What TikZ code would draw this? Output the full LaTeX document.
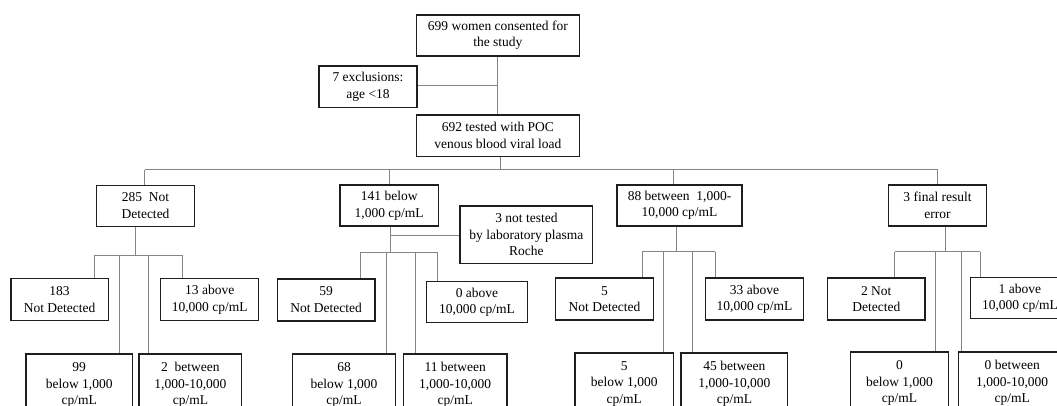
\documentclass[tikz,border=0pt]{standalone}
\usepackage{fontspec}
\setmainfont{Liberation Serif}
\definecolor{boxcol}{HTML}{1E1E1E}
\definecolor{conncol}{HTML}{858585}
\tikzset{
  box/.style={draw=boxcol, line width=1.4pt, fill=white, align=center, inner sep=0pt,
    font=\fontsize{13.5}{16.5}\selectfont, text=black},
  conn/.style={draw=conncol, line width=0.9pt},
}
\begin{document}
\begin{tikzpicture}[x=1pt,y=-1pt]
\useasboundingbox (0,0) rectangle (1057,405);
\clip (0,0) rectangle (1057,405);
\fill[white] (0,0) rectangle (1057,405);

% top part
\node[box, minimum width=163pt, minimum height=41pt] (top) at (497.9,35.4) {699 women consented for\\the study};
\node[box, minimum width=97.7pt, minimum height=41.3pt] (excl) at (368,86.6) {7 exclusions:\\age <18};
\node[box, minimum width=163pt, minimum height=41.3pt] (p692) at (497.9,135.6) {692 tested with POC\\venous blood viral load};

% level 2
\node[box, minimum width=97.6pt, minimum height=41pt] (A) at (145.5,205.7) {285\ \ Not\\Detected};
\node[box, minimum width=98.3pt, minimum height=41pt] (B) at (389.2,205.5) {141 below\\1,000 cp/mL};
\node[box, minimum width=125.1pt, minimum height=41pt] (C) at (679.5,205.3) {88 between\ \ 1,000-\\10,000 cp/mL};
\node[box, minimum width=98.4pt, minimum height=41pt] (D) at (937.5,205.3) {3 final result\\error};
\node[box, minimum width=132.7pt, minimum height=57.3pt] (notT) at (526.4,234.7) {3 not tested\\by laboratory plasma\\Roche};

% level 3
\node[box, minimum width=97.5pt, minimum height=42pt] (A1) at (59.6,299.6) {183\\Not Detected};
\node[box, minimum width=97.9pt, minimum height=42pt] (A2) at (209.7,299.6) {13 above\\10,000 cp/mL};
\node[box, minimum width=97.8pt, minimum height=42pt] (B1) at (326.1,299.8) {59\\Not Detected};
\node[box, minimum width=100.6pt, minimum height=41pt] (B2) at (477,302) {0 above\\10,000 cp/mL};
\node[box, minimum width=97.6pt, minimum height=42pt] (C1) at (604.5,299) {5\\Not Detected};
\node[box, minimum width=97.5pt, minimum height=42pt] (C2) at (754.5,299) {33 above\\10,000 cp/mL};
\node[box, minimum width=97.5pt, minimum height=42pt] (D1) at (876.3,299) {2 Not\\Detected};
\node[box, minimum width=98.3pt, minimum height=41pt] (D2) at (1019.9,298.2) {1 above\\10,000 cp/mL};

% level 4
\node[box, minimum width=106.3pt, minimum height=62pt] (A3) at (79.2,385) {99\\below 1,000\\cp/mL};
\node[box, minimum width=102.7pt, minimum height=62pt] (A4) at (190.4,385) {2\ \ between\\1,000-10,000\\cp/mL};
\node[box, minimum width=102.8pt, minimum height=62pt] (B3) at (344.1,385) {68\\below 1,000\\cp/mL};
\node[box, minimum width=103.7pt, minimum height=62pt] (B4) at (455.2,385) {11 between\\1,000-10,000\\cp/mL};
\node[box, minimum width=98.4pt, minimum height=62pt] (C3) at (624.2,384) {5\\below 1,000\\cp/mL};
\node[box, minimum width=106.5pt, minimum height=62pt] (C4) at (734.4,384) {45 between\\1,000-10,000\\cp/mL};
\node[box, minimum width=97.8pt, minimum height=62pt] (D3) at (899.4,383) {0\\below 1,000\\cp/mL};
\node[box, minimum width=107.7pt, minimum height=62pt] (D4) at (1012.2,383) {0 between\\1,000-10,000\\cp/mL};

% top connectors
\coordinate (vTop) at (497.9,85.5);
\draw[conn] (top.south) -- (p692.north);
\draw[conn] (excl.east |- vTop) -- (vTop);

% main bus
\coordinate (sMain) at (500.3,169.5);
\coordinate (mA) at (144.5,169.5);
\coordinate (mB) at (389.8,169.5);
\coordinate (mC) at (673.4,169.5);
\coordinate (mD) at (937.7,169.5);
\draw[conn] (sMain |- p692.south) -- (sMain);
\draw[conn] (mA) -- (mD);
\draw[conn] (mA) -- (mA |- A.north);
\draw[conn] (mB) -- (mB |- B.north);
\draw[conn] (mC) -- (mC |- C.north);
\draw[conn] (mD) -- (mD |- D.north);

% group A
\coordinate (sA) at (135,255.7);
\coordinate (dA1) at (94.3,255.7);
\coordinate (dA2) at (182.7,255.7);
\coordinate (dA3) at (119.3,255.7);
\coordinate (dA4) at (148.3,255.7);
\draw[conn] (sA |- A.south) -- (sA);
\draw[conn] (dA1) -- (dA2);
\draw[conn] (dA1) -- (dA1 |- A1.north);
\draw[conn] (dA2) -- (dA2 |- A2.north);
\draw[conn] (dA3) -- (dA3 |- A3.north);
\draw[conn] (dA4) -- (dA4 |- A4.north);

% group B
\coordinate (sB) at (390,252.7);
\coordinate (brB) at (390,235.5);
\coordinate (dB1) at (360,252.7);
\coordinate (dB2) at (437.7,252.7);
\coordinate (dB3) at (386,252.7);
\coordinate (dB4) at (415,252.7);
\draw[conn] (sB |- B.south) -- (sB);
\draw[conn] (brB) -- (notT.west |- brB);
\draw[conn] (dB1) -- (dB2);
\draw[conn] (dB1) -- (dB1 |- B1.north);
\draw[conn] (dB2) -- (dB2 |- B2.north);
\draw[conn] (dB3) -- (dB3 |- B3.north);
\draw[conn] (dB4) -- (dB4 |- B4.north);

% group C
\coordinate (sC) at (676,251.7);
\coordinate (dC1) at (642.3,251.7);
\coordinate (dC2) at (715,251.7);
\coordinate (dC3) at (663.3,251.7);
\coordinate (dC4) at (692.7,251.7);
\draw[conn] (sC |- C.south) -- (sC);
\draw[conn] (dC1) -- (dC2);
\draw[conn] (dC1) -- (dC1 |- C1.north);
\draw[conn] (dC2) -- (dC2 |- C2.north);
\draw[conn] (dC3) -- (dC3 |- C3.north);
\draw[conn] (dC4) -- (dC4 |- C4.north);

% group D
\coordinate (sD) at (945,251.7);
\coordinate (dD1) at (894.8,251.7);
\coordinate (dD2) at (980,251.7);
\coordinate (dD3) at (935,251.7);
\coordinate (dD4) at (961.7,251.7);
\draw[conn] (sD |- D.south) -- (sD);
\draw[conn] (dD1) -- (dD2);
\draw[conn] (dD1) -- (dD1 |- D1.north);
\draw[conn] (dD2) -- (dD2 |- D2.north);
\draw[conn] (dD3) -- (dD3 |- D3.north);
\draw[conn] (dD4) -- (dD4 |- D4.north);
\end{tikzpicture}
\end{document}
